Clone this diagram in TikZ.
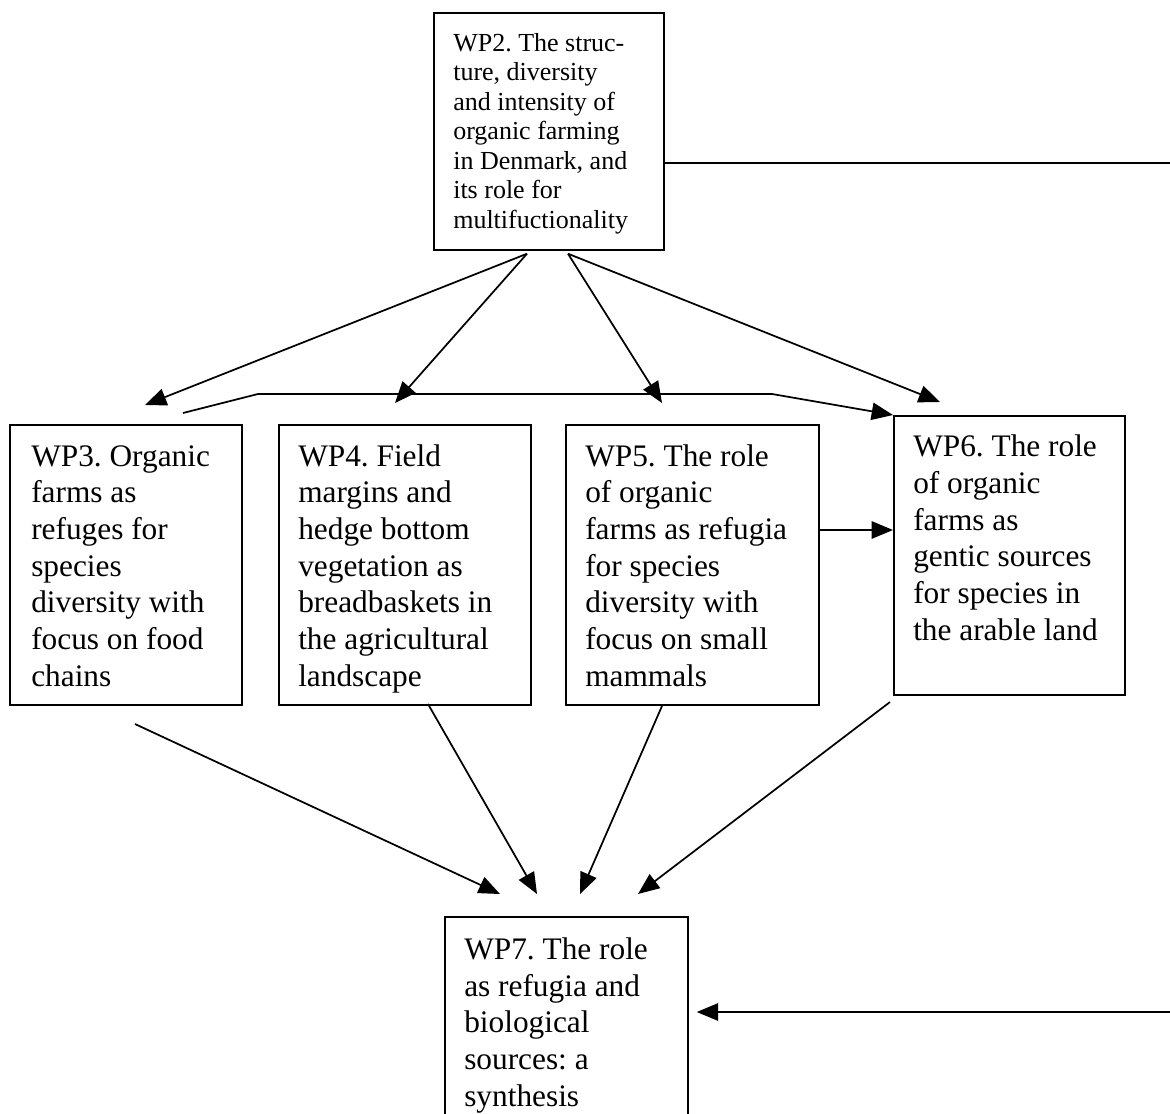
\documentclass[tikz,border=0pt]{standalone}
\usepackage{fontspec}
\setmainfont{Liberation Serif}
\frenchspacing
\usetikzlibrary{arrows.meta,calc}
\begin{document}
\begin{tikzpicture}[x=0.75pt,y=-0.75pt,
  box/.style={draw,line width=1.3pt,inner sep=0pt,anchor=north west},
  big/.style={anchor=base west,inner sep=0pt,align=left,font=\fontsize{23.5}{27.5}\selectfont},
  small/.style={anchor=base west,inner sep=0pt,align=left,font=\fontsize{19.5}{22.1}\selectfont},
  conn/.style={line width=1.3pt,-{Triangle[length=16pt,width=13pt]}},
  plainline/.style={line width=1.3pt}]
\useasboundingbox (0,0) rectangle (1170,1113);
\clip (0,0) rectangle (1170,1113);
% boxes
\node[box,minimum width=172.5pt,minimum height=177.75pt] (wp2) at (433,12) {};
\node[box,minimum width=174pt,minimum height=210pt] (wp3) at (9,424) {};
\node[box,minimum width=189pt,minimum height=210pt] (wp4) at (278,424) {};
\node[box,minimum width=189.75pt,minimum height=210pt] (wp5) at (565,424) {};
\node[box,minimum width=173.25pt,minimum height=209.25pt] (wp6) at (893,415) {};
\node[box,minimum width=182.25pt,minimum height=165pt] (wp7) at (444,916) {};
% texts (anchored at the baseline of their last line)
\node[small] (t2) at (453,228) {WP2. The struc-\\ture, diversity\\and intensity of\\organic farming\\in Denmark, and\\its role for\\multifuctionality};
\node[big] (t3) at (31,686) {WP3. Organic\\farms as\\refuges for\\species\\diversity with\\focus on food\\chains};
\node[big] (t4) at (298,686) {WP4. Field\\margins and\\hedge bottom\\vegetation as\\breadbaskets in\\the agricultural\\landscape};
\node[big] (t5) at (585,686) {WP5. The role\\of organic\\farms as refugia\\for species\\diversity with\\focus on small\\mammals};
\node[big] (t6) at (913,640) {WP6. The role\\of organic\\farms as\\gentic sources\\for species in\\the arable land};
\node[big] (t7) at (464,1106) {WP7. The role\\as refugia and\\biological\\sources: a\\synthesis};
% connector end points
\coordinate (s2l) at ($(wp2.south west)+(94,3)$);
\coordinate (s2r) at ($(wp2.south west)+(135,3)$);
\coordinate (e3) at (145,405);
\coordinate (e4) at (395,403);
\coordinate (e5) at (662,403);
\coordinate (e6) at (940,402);
\coordinate (h0) at (183,413);
\coordinate (h1) at (258,394);
\coordinate (h2) at (772,394);
\coordinate (r5) at (818,530);
\coordinate (l6) at (893,530);
\coordinate (top) at (1170,163);
\coordinate (bot) at (1170,1012);
\coordinate (b3) at (135,724);
\coordinate (b4) at (428,704);
\coordinate (b5) at (662,706);
\coordinate (b6) at (890,702);
\coordinate (f3) at (500,894);
\coordinate (f4) at (537,894);
\coordinate (f5) at (580,894);
\coordinate (f6) at (638,894);
% connectors
\draw[conn] (s2l) -- (e3);
\draw[conn] (s2l) -- (e4);
\draw[conn] (s2r) -- (e5);
\draw[conn] (s2r) -- (e6);
\draw[conn] (h0) -- (h1) -- (h2) -- (wp6.north west);
\draw[conn] (r5) -- (l6);
\draw[plainline] (wp2.east |- top) -- (top);
\draw[conn] (bot) -- ($(wp7.east |- bot)+(8,0)$);
\draw[conn] (b3) -- (f3);
\draw[conn] (b4) -- (f4);
\draw[conn] (b5) -- (f5);
\draw[conn] (b6) -- (f6);
\end{tikzpicture}
\end{document}
